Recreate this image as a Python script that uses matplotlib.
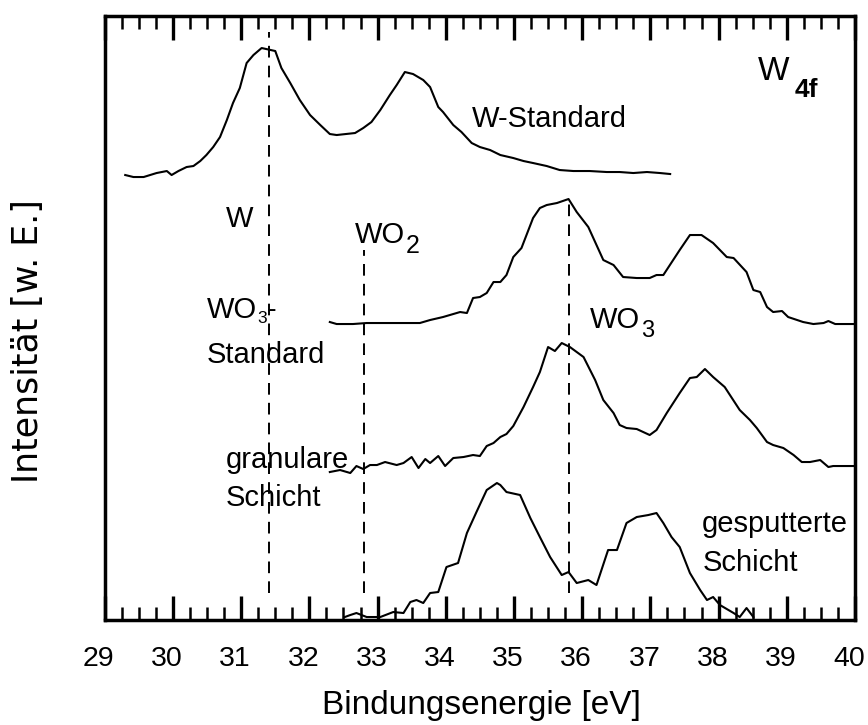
import matplotlib
matplotlib.use("Agg")
import matplotlib.pyplot as plt
from matplotlib.ticker import MultipleLocator, FixedLocator
from matplotlib.transforms import ScaledTranslation

plt.rcParams["font.family"] = ["Liberation Sans", "DejaVu Sans"]

# --- W 4f spectra (binding energy in eV, intensity in arbitrary units, stacked) ---
w_std_e = [29.30, 29.42, 29.57, 29.76, 29.91, 29.98, 30.08, 30.20, 30.30, 30.40,
           30.49, 30.59, 30.69, 30.79, 30.88, 30.98, 31.08, 31.18, 31.30, 31.50,
           31.59, 31.72, 31.86, 32.01, 32.16, 32.30, 32.40, 32.67, 32.79, 32.91,
           33.04, 33.18, 33.28, 33.40, 33.52, 33.67, 33.77, 33.89, 33.96, 34.11,
           34.23, 34.38, 34.50, 34.65, 34.80, 34.99, 35.14, 35.28, 35.48, 35.67,
           35.87, 36.11, 36.36, 36.55, 36.75, 36.95, 37.14, 37.29]
w_std_i = [445, 443, 443, 447, 449, 445, 449, 453, 454, 459,
           465, 473, 483, 500, 517, 532, 557, 565, 572, 569,
           552, 537, 520, 505, 495, 486, 485, 487, 492, 498,
           510, 525, 535, 548, 546, 540, 533, 513, 508, 495,
           488, 477, 473, 470, 465, 462, 459, 457, 454, 450,
           449, 449, 448, 448, 447, 448, 447, 446]

wo3_std_e = [32.30, 32.40, 32.64, 32.84, 33.08, 33.28, 33.62, 33.77, 33.96, 34.21,
             34.31, 34.40, 34.50, 34.60, 34.70, 34.80, 34.89, 34.99, 35.11, 35.28,
             35.38, 35.48, 35.63, 35.80, 35.92, 36.09, 36.21, 36.31, 36.46, 36.60,
             36.80, 36.99, 37.09, 37.19, 37.43, 37.58, 37.75, 37.92, 38.12, 38.22,
             38.41, 38.51, 38.61, 38.71, 38.80, 38.93, 39.02, 39.24, 39.39, 39.54,
             39.61, 39.71, 39.98]
wo3_std_i = [298, 296, 296, 297, 297, 297, 297, 300, 303, 308,
             307, 322, 323, 327, 338, 338, 345, 363, 372, 402,
             412, 415, 417, 421, 408, 393, 375, 360, 355, 343,
             342, 342, 345, 345, 370, 385, 385, 377, 363, 362,
             348, 330, 328, 313, 308, 309, 303, 298, 296, 297,
             299, 296, 296]

gran_e = [32.30, 32.45, 32.60, 32.69, 32.79, 32.89, 32.99, 33.11, 33.28, 33.38,
          33.50, 33.60, 33.70, 33.77, 33.89, 33.99, 34.11, 34.26, 34.40, 34.50,
          34.60, 34.70, 34.80, 34.89, 34.99, 35.14, 35.28, 35.38, 35.50, 35.60,
          35.70, 35.82, 36.02, 36.19, 36.31, 36.46, 36.55, 36.65, 36.80, 36.99,
          37.09, 37.24, 37.43, 37.58, 37.68, 37.80, 37.92, 38.09, 38.31, 38.46,
          38.56, 38.71, 38.80, 38.95, 39.10, 39.22, 39.34, 39.49, 39.61, 39.68,
          39.98]
gran_i = [148, 150, 147, 154, 151, 155, 155, 158, 155, 157,
          163, 152, 161, 157, 164, 154, 162, 163, 165, 164,
          174, 177, 183, 186, 194, 213, 233, 248, 273, 269,
          277, 273, 263, 240, 220, 207, 195, 192, 191, 185,
          190, 207, 227, 242, 243, 251, 243, 233, 210, 200,
          192, 178, 175, 172, 165, 158, 158, 160, 153, 154,
          154]

sput_e = [32.52, 32.60, 32.69, 32.84, 33.04, 33.23, 33.38, 33.48, 33.57, 33.67,
          33.77, 33.89, 34.01, 34.18, 34.31, 34.45, 34.60, 34.75, 34.80, 34.89,
          35.09, 35.24, 35.38, 35.53, 35.70, 35.80, 35.92, 36.09, 36.21, 36.38,
          36.51, 36.65, 36.80, 36.97, 37.09, 37.19, 37.31, 37.43, 37.58, 37.73,
          37.83, 37.92, 38.02, 38.22, 38.31, 38.41, 38.51]
sput_i = [3, 5, 7, 3, 3, 8, 7, 18, 20, 17,
          27, 28, 53, 57, 87, 108, 130, 137, 135, 128,
          125, 102, 83, 63, 45, 48, 37, 40, 35, 70,
          70, 97, 103, 105, 107, 97, 83, 73, 47, 30,
          20, 23, 15, 7, 3, 12, 3]

# reference binding energies (W, WO2, WO3) and upper end of each marker line
ref_energy = [31.41, 32.80, 35.80]
ref_top = [588, 370, 423]
ref_bottom = 27

x_ticks = list(range(29, 41))

fig = plt.figure(figsize=(8.68, 7.25), dpi=100)
ax = fig.add_axes([0.1207, 0.1448, 0.8643, 0.8331])

for e, i in [(w_std_e, w_std_i), (wo3_std_e, wo3_std_i),
             (gran_e, gran_i), (sput_e, sput_i)]:
    ax.plot(e, i, color="black", lw=1.5, solid_joinstyle="round")

for e, top in zip(ref_energy, ref_top):
    ax.plot([e, e], [ref_bottom, top], color="black", lw=1.4,
            dashes=(6.0, 4.2))

ax.set_xlim(29, 40)
ax.set_ylim(0, 604)

ax.xaxis.set_major_locator(FixedLocator(x_ticks))
ax.xaxis.set_minor_locator(MultipleLocator(0.25))
ax.set_xticks(x_ticks)
ax.set_xticklabels([str(t) for t in x_ticks])
ax.set_yticks([])
ax.tick_params(axis="x", which="major", direction="in", top=True, bottom=True,
               length=17.5, width=2.4, labelsize=20.5, pad=19)
ax.tick_params(axis="x", which="minor", direction="in", top=True, bottom=True,
               length=9.5, width=1.8)
shift = ScaledTranslation(-6 / 100, 0, fig.dpi_scale_trans)
for lab in ax.get_xticklabels():
    lab.set_transform(lab.get_transform() + shift)

for side in ["left", "right", "top", "bottom"]:
    ax.spines[side].set_linewidth(2.5)

ax.set_xlabel("Bindungsenergie [eV]", fontsize=24)
ax.xaxis.set_label_coords(0.5015, -0.1165)
ax.set_ylabel("Intensität [w. E.]", fontsize=25, family="DejaVu Sans", va="center")
ax.yaxis.set_label_coords(-0.1017, 0.4619)

fs = 21
# species and sample labels; subscripts are drawn as separate, smaller texts
ax.text(34.38, 493, "W-Standard", fontsize=fs)
ax.text(38.58, 540, "W", fontsize=24)
ax.text(39.11, 523, "4f", fontsize=19, fontweight="bold")
ax.text(30.78, 393, "W", fontsize=fs)
ax.text(32.67, 377, "WO", fontsize=fs)
ax.text(33.41, 367, "2", fontsize=18)
ax.text(30.50, 302, "WO", fontsize=fs)
ax.text(31.24, 297, "3", fontsize=12.5)
ax.text(31.37, 302, "-", fontsize=fs)
ax.text(30.50, 257, "Standard", fontsize=fs)
ax.text(36.12, 292, "WO", fontsize=fs)
ax.text(36.86, 283, "3", fontsize=17)
ax.text(30.77, 152, "granulare", fontsize=fs)
ax.text(30.77, 114, "Schicht", fontsize=fs)
ax.text(37.76, 88, "gesputterte", fontsize=fs)
ax.text(37.76, 49, "Schicht", fontsize=fs)

fig.savefig("out.png", dpi=100)
